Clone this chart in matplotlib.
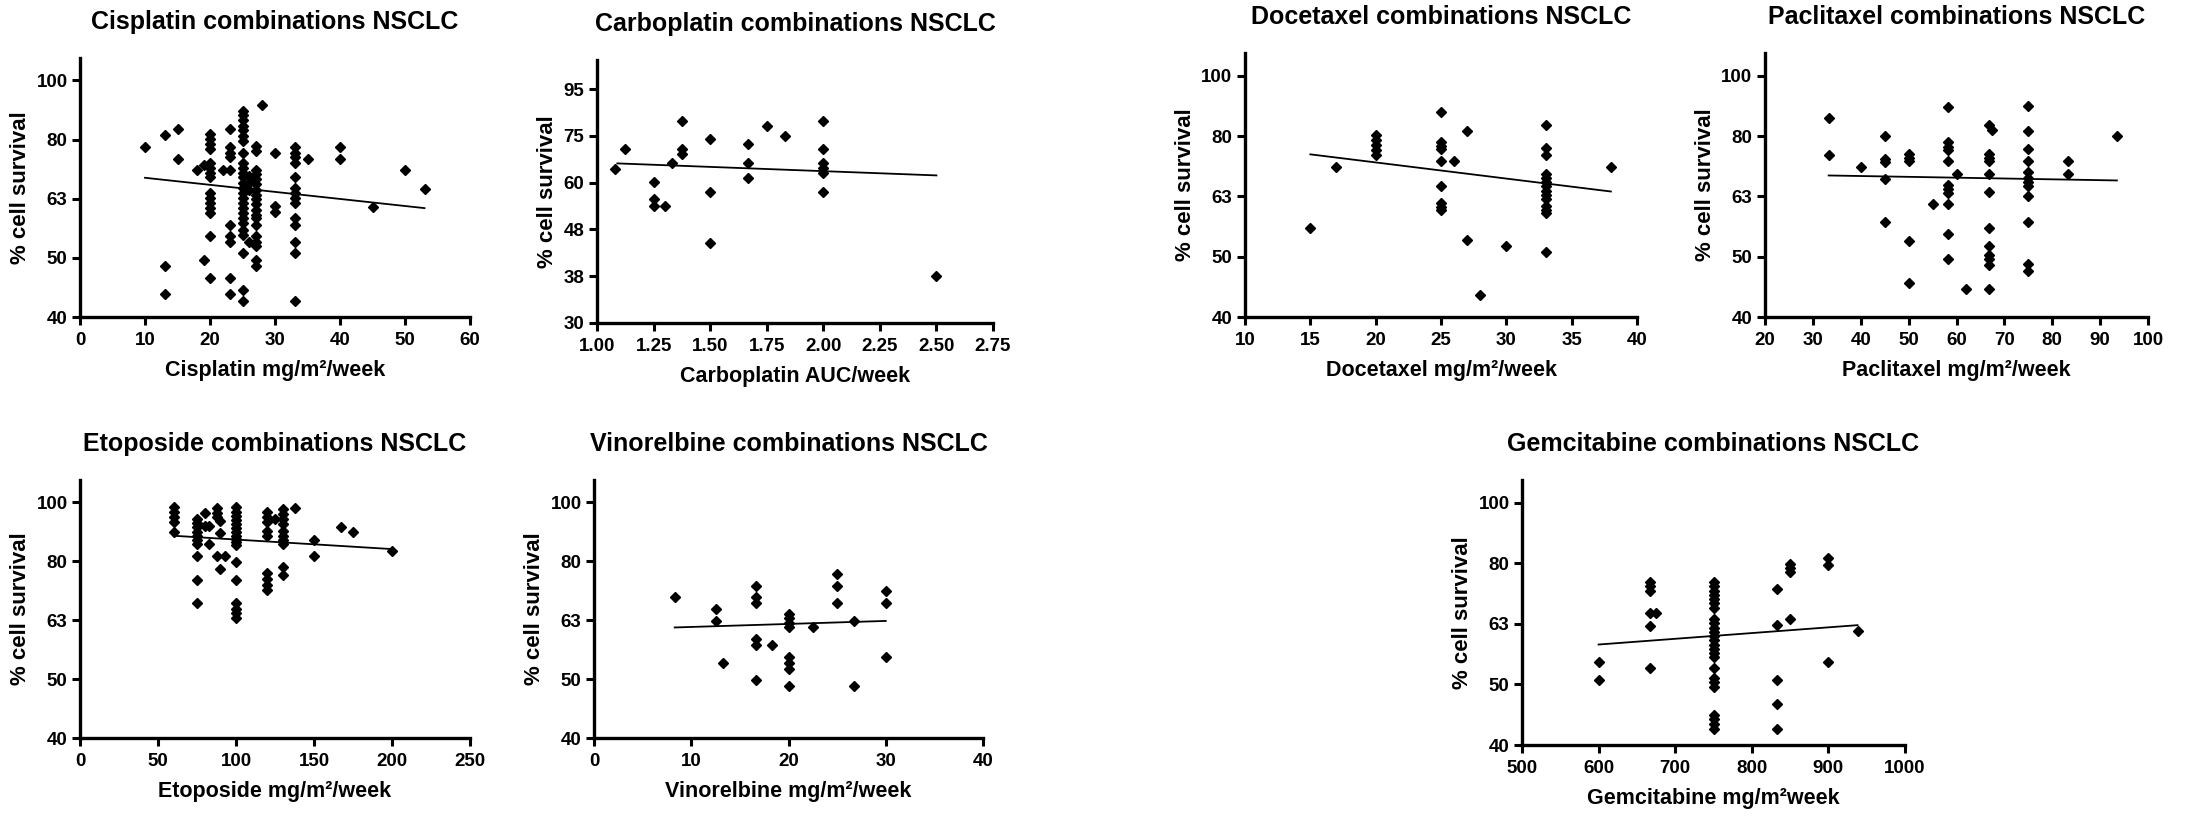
import matplotlib
matplotlib.use('Agg')
import matplotlib.pyplot as plt
from matplotlib.ticker import FixedLocator, NullLocator

plt.rcParams['font.family'] = ['Liberation Sans', 'DejaVu Sans']
plt.rcParams['font.weight'] = 'bold'

# ---------------- data ----------------
cis_doses = [10, 13, 15, 18, 19, 20, 22, 23, 25, 26, 27, 28, 30, 33, 35, 40, 45, 50, 53]
cis_vals = [
    [77.6],
    [81.5, 48.8, 43.7],
    [83.5, 74],
    [71],
    [72.5, 50],
    [81.8, 80.1, 78.6, 77.1, 73.1, 71.7, 70.3, 69, 65, 63.7, 62.5, 61.3, 60, 54.8, 46.5],
    [71],
    [83.2, 77.6, 76, 74.6, 71, 57.3, 54.8, 53.7, 46.5, 43.8],
    [89.6, 88.1, 86.4, 84.4, 82.9, 81.2, 79.6, 76, 73.1, 71.7, 70.3, 69, 67.6, 66.3, 65,
     63.7, 62.5, 61.3, 60, 58.9, 57.7, 56.2, 55.1, 51.3, 44.4, 42.6],
    [69.4, 67.6, 65.8, 53.7],
    [78.1, 76.5, 71, 69.8, 68.5, 67.2, 65.8, 64.5, 63.3, 62.1, 60.8, 59.6, 58.9, 57.3, 54.8,
     53.7, 52.7, 50, 48.9],
    [91.4],
    [76, 61.7, 60.2],
    [77.6, 76, 74.6, 73.1, 69, 66.3, 65, 63.7, 62.5, 58.9, 57.3, 53.7, 51.3, 42.6],
    [74.1],
    [77.6, 74.1],
    [61.5],
    [71],
    [66],
]
cis_fit_x = [10, 53]
cis_fit_y = [68.9, 61.2]

carbo_doses = [1.08, 1.125, 1.25, 1.3, 1.33, 1.375, 1.5, 1.667, 1.75, 1.83, 2.0, 2.5]
carbo_vals = [
    [64.3],
    [70.8],
    [60.2, 55.3, 53.5],
    [53.6],
    [66.2],
    [81.4, 70.8, 69],
    [74.4, 57.3, 44.6],
    [72.5, 66.2, 61.5],
    [79.4],
    [75.6],
    [81.4, 70.8, 66, 64.6, 63, 57.3],
    [37.9],
]
carbo_fit_x = [1.09, 2.5]
carbo_fit_y = [66.0, 62.2]

doce_doses = [15, 17, 20, 25, 26, 27, 28, 30, 33, 38]
doce_vals = [
    [56.3],
    [71.1],
    [80.3, 78.8, 77.3, 75.8, 74.4],
    [87.7, 78.3, 77, 76, 72.7, 66.2, 62, 61, 60.3],
    [72.7],
    [81.6, 53.7],
    [43.5],
    [52.5],
    [83.6, 76.3, 74.4, 69.3, 68.1, 67, 66, 64.9, 63.9, 62.9, 61.3, 60.2, 59.5, 51.3],
    [71.1],
]
doce_fit_x = [15, 38]
doce_fit_y = [74.6, 64.7]

pacli_doses = [33.3, 40, 45, 50, 55, 58.3, 60, 62, 66.7, 67.5, 75, 83.3, 93.5]
pacli_vals = [
    [85.6, 74.4],
    [71.1],
    [79.9, 73.3, 72.5, 67.8, 57.6],
    [74.6, 73.6, 72.6, 53.6, 45.6],
    [61.6],
    [89.4, 78.3, 76.8, 75.8, 72.7, 66.4, 65.3, 64.3, 61.6, 54.9, 50],
    [69.3],
    [44.5],
    [83.4, 74.6, 73.6, 72.6, 69.3, 64.6, 56.3, 52.5, 50.7, 50, 48.9, 44.5],
    [81.8],
    [89.7, 81.6, 76.1, 72.7, 69.6, 68.2, 67.1, 66.1, 63.5, 57.6, 49.1, 47.8],
    [72.7, 69.3],
    [79.9],
]
pacli_fit_x = [33.3, 93.5]
pacli_fit_y = [68.8, 67.5]

etop_doses = [60, 75, 80, 83, 87.5, 90, 93, 100, 120, 125, 130, 137.5, 150, 167, 175, 200]
etop_vals = [
    [98.8, 96.9, 95, 93.4, 89.6],
    [94.4, 92.9, 91.4, 89.8, 88.4, 87, 85.6, 81.5, 74.4, 67.8],
    [96.5, 92],
    [92, 85.5],
    [98.5, 96.5, 95, 81.5],
    [93.5, 89.5, 77.5],
    [81.5],
    [98.8, 97.2, 95.6, 94.2, 92.6, 91.1, 89.6, 88.4, 87.2, 86.2, 85.3, 79.8, 74.4, 67.8,
     66.4, 65.2, 64.1],
    [96.9, 95, 93.2, 90.2, 88.4, 76.3, 74.6, 72.8, 71.5],
    [94.4],
    [98.1, 96.3, 94.4, 92.6, 90.2, 88.4, 87, 85.6, 78.1, 75.7],
    [98.6],
    [86.8, 81.5],
    [91.4],
    [89.6],
    [83.4],
]
etop_fit_x = [60, 200]
etop_fit_y = [88.4, 83.9]

vino_doses = [8.3, 12.5, 13.3, 16.7, 18.3, 20, 22.5, 25, 26.7, 30]
vino_vals = [
    [69.4],
    [66.3, 63.3],
    [53.7],
    [72.6, 69.4, 67.8, 59, 57.5, 50.2],
    [57.5],
    [65, 64.1, 62.9, 61.7, 55, 53.7, 52.5, 49],
    [61.7],
    [76, 72.6, 67.8],
    [63.3, 49],
    [71.2, 67.8, 55],
]
vino_fit_x = [8.3, 30]
vino_fit_y = [61.7, 63.3]

gem_doses = [600, 667, 675, 750, 833, 850, 900, 938]
gem_vals = [
    [54.9, 51.2],
    [74.4, 73.3, 72.1, 66.2, 63, 53.7],
    [66.2],
    [74.4, 73.3, 72.1, 70.9, 69.8, 68.7, 67.6, 64.6, 63.7, 62.6, 61.6, 60.6, 59.7, 58.7,
     57.8, 56.9, 56, 53.7, 51.7, 50.8, 49.9, 44.9, 44.2, 43.4, 42.6],
    [72.5, 63.2, 51.3, 46.8, 42.6],
    [79.9, 78.5, 77.3, 64.6],
    [81.6, 79.5, 54.9],
    [61.7],
]
gem_fit_x = [600, 938]
gem_fit_y = [58.7, 63.2]

titles = ["Cisplatin combinations NSCLC", "Carboplatin combinations NSCLC",
          "Docetaxel combinations NSCLC", "Paclitaxel combinations NSCLC",
          "Etoposide combinations NSCLC", "Vinorelbine combinations NSCLC",
          "Gemcitabine combinations NSCLC"]
xlabels = ["Cisplatin mg/m²/week", "Carboplatin AUC/week", "Docetaxel mg/m²/week",
           "Paclitaxel mg/m²/week", "Etoposide mg/m²/week", "Vinorelbine mg/m²/week",
           "Gemcitabine mg/m²week"]
ylabel = "% cell survival"

y_labels_std = ["40", "50", "63", "80", "100"]
y_labels_carbo = ["30", "38", "48", "60", "75", "95"]

cis_xticks = [0, 10, 20, 30, 40, 50, 60]
carbo_xticks = [1.00, 1.25, 1.50, 1.75, 2.00, 2.25, 2.50, 2.75]
doce_xticks = [10, 15, 20, 25, 30, 35, 40]
pacli_xticks = [20, 30, 40, 50, 60, 70, 80, 90, 100]
etop_xticks = [0, 50, 100, 150, 200, 250]
vino_xticks = [0, 10, 20, 30, 40]
gem_xticks = [500, 600, 700, 800, 900, 1000]

# ---------------- layout ----------------
W, H = 2190, 821
fig = plt.figure(figsize=(W / 100, H / 100), dpi=100)

panels = [
    ((80, 470, 58, 317), cis_doses, cis_vals, cis_fit_x, cis_fit_y, cis_xticks, "{:g}", 40, y_labels_std),
    ((597, 993, 60, 323), carbo_doses, carbo_vals, carbo_fit_x, carbo_fit_y, carbo_xticks, "{:.2f}", 30, y_labels_carbo),
    ((1245, 1637, 53, 317), doce_doses, doce_vals, doce_fit_x, doce_fit_y, doce_xticks, "{:g}", 40, y_labels_std),
    ((1765, 2148, 53, 317), pacli_doses, pacli_vals, pacli_fit_x, pacli_fit_y, pacli_xticks, "{:g}", 40, y_labels_std),
    ((80, 470, 480, 738), etop_doses, etop_vals, etop_fit_x, etop_fit_y, etop_xticks, "{:g}", 40, y_labels_std),
    ((594, 983, 480, 738), vino_doses, vino_vals, vino_fit_x, vino_fit_y, vino_xticks, "{:g}", 40, y_labels_std),
    ((1522, 1905, 480, 745), gem_doses, gem_vals, gem_fit_x, gem_fit_y, gem_xticks, "{:g}", 40, y_labels_std),
]

for i, (box, doses, vals, fx, fy, xt, xfmt, ylo, ylabs) in enumerate(panels):
    l, r, t, b = box
    ax = fig.add_axes([l / W, 1 - b / H, (r - l) / W, (b - t) / H])
    xs, ys = [], []
    for d, vs in zip(doses, vals):
        for v in vs:
            xs.append(d)
            ys.append(v)
    ax.plot(xs, ys, linestyle='none', marker='D', ms=5.0, color='black', clip_on=False, zorder=3)
    ax.plot(fx, fy, color='black', lw=1.3, zorder=2)

    ax.set_yscale('log')
    yt = [ylo * 2 ** (k / 3) for k in range(len(ylabs))]
    ax.set_ylim(ylo, 110)
    ax.yaxis.set_major_locator(FixedLocator(yt))
    ax.yaxis.set_minor_locator(NullLocator())
    ax.set_yticklabels(ylabs)

    ax.set_xlim(xt[0], xt[-1])
    ax.set_xticks(xt)
    ax.set_xticklabels([xfmt.format(v) for v in xt])

    for s in ('top', 'right'):
        ax.spines[s].set_visible(False)
    for s in ('left', 'bottom'):
        ax.spines[s].set_linewidth(2.4)
    ax.tick_params(direction='out', length=6, width=2.2, labelsize=13.5, colors='black')
    ax.tick_params(axis='x', pad=5)
    ax.tick_params(axis='y', pad=3)

    ax.set_title(titles[i], fontsize=18, fontweight='bold', pad=21)
    ax.set_xlabel(xlabels[i], fontsize=15.5, fontweight='bold', labelpad=8)
    ax.set_ylabel(ylabel, fontsize=16, fontweight='bold', labelpad=4)

fig.savefig('out.png', dpi=100, facecolor='white')
